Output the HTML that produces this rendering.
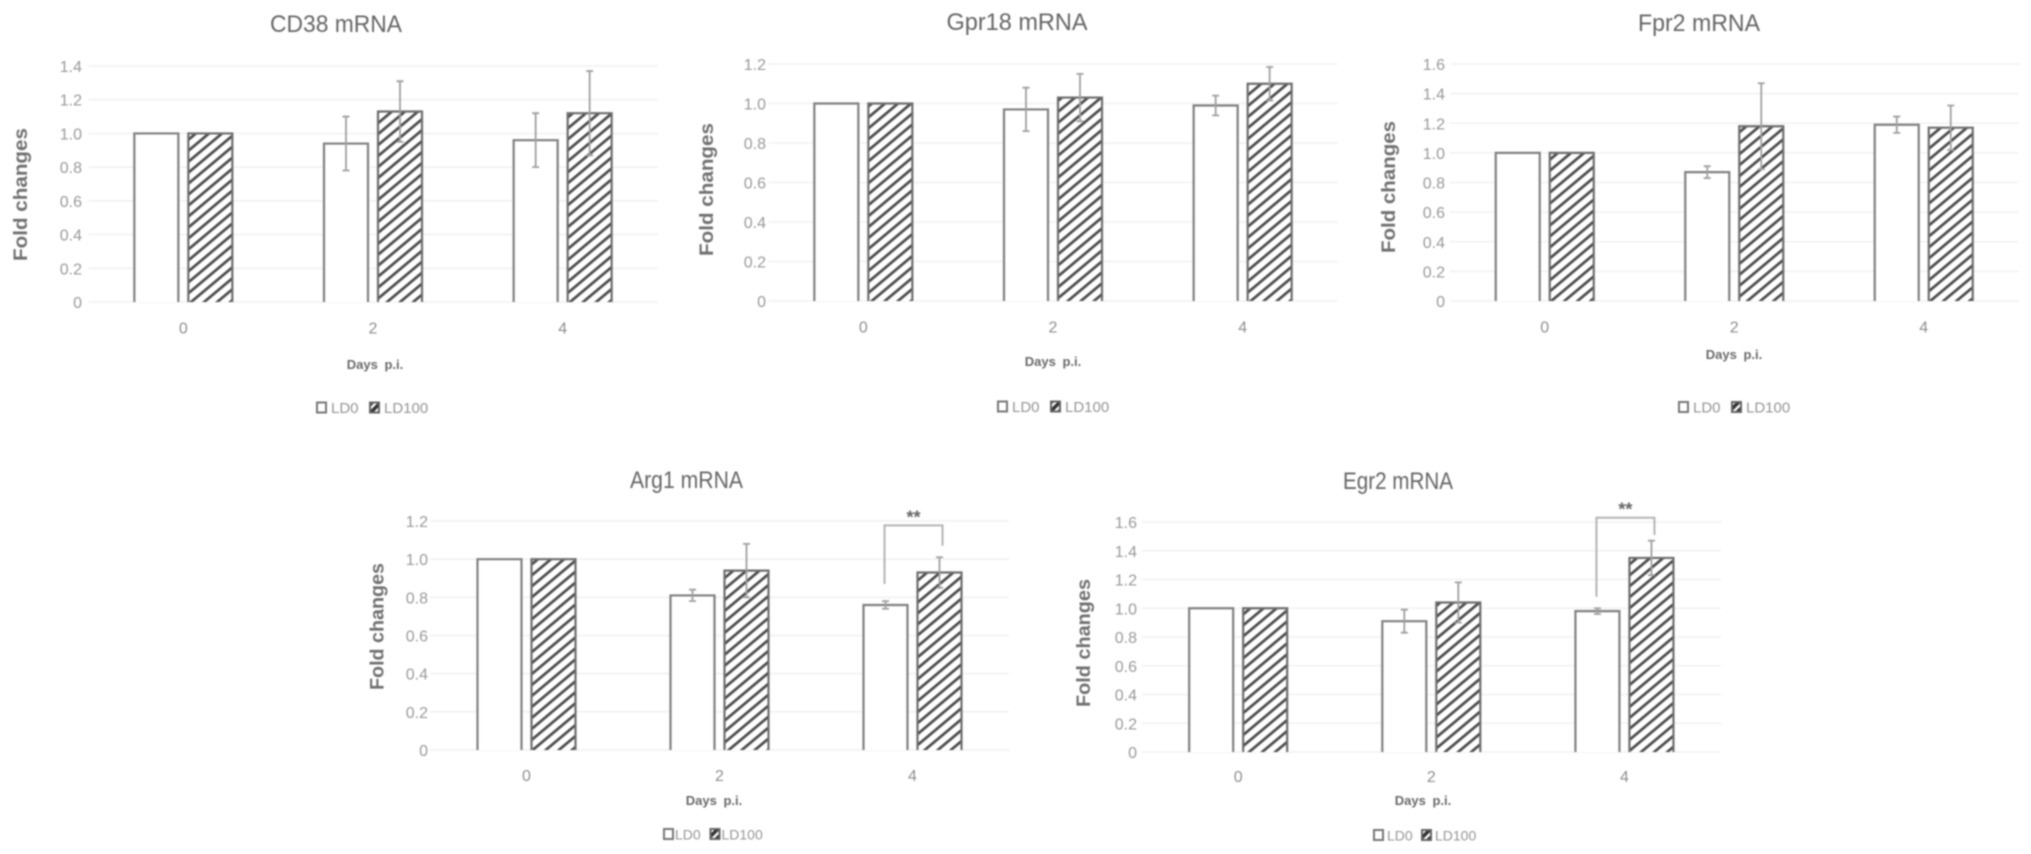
<!DOCTYPE html>
<html lang="en">
<head>
<meta charset="utf-8">
<title>mRNA fold changes</title>
<style>
html,body{margin:0;padding:0;background:#fff;width:2031px;height:854px;overflow:hidden}
svg{display:block;filter:blur(0.8px)}
text{font-family:"Liberation Sans",sans-serif}
</style>
</head>
<body>
<svg id="figure" xmlns="http://www.w3.org/2000/svg" width="2031" height="854" viewBox="0 0 2031 854">
<defs>
<pattern id="hatch" patternUnits="userSpaceOnUse" width="8.4" height="10" patternTransform="rotate(50)">
<rect width="8.4" height="10" fill="#fff"/>
<rect x="0" y="0" width="2.7" height="10" fill="#4a4a4a"/>
</pattern>
<pattern id="hatch-small" patternUnits="userSpaceOnUse" width="6" height="6" patternTransform="rotate(45)">
<rect width="6" height="6" fill="#fff"/>
<rect x="0" y="0" width="3.6" height="6" fill="#333"/>
</pattern>
</defs>
</svg>
<script>
const categories = ["0", "2", "4"];

const cd38Ld0 = [1.0, 0.94, 0.96];
const cd38Ld100 = [1.0, 1.13, 1.12];
const cd38ErrLd0 = [0, 0.16, 0.16];
const cd38ErrLd100 = [0, 0.18, 0.25];
const cd38Ticks = ["0", "0.2", "0.4", "0.6", "0.8", "1.0", "1.2", "1.4"];

const gpr18Ld0 = [1.0, 0.97, 0.99];
const gpr18Ld100 = [1.0, 1.03, 1.10];
const gpr18ErrLd0 = [0, 0.11, 0.05];
const gpr18ErrLd100 = [0, 0.12, 0.085];
const gpr18Ticks = ["0", "0.2", "0.4", "0.6", "0.8", "1.0", "1.2"];

const fpr2Ld0 = [1.0, 0.87, 1.19];
const fpr2Ld100 = [1.0, 1.18, 1.17];
const fpr2ErrLd0 = [0, 0.04, 0.055];
const fpr2ErrLd100 = [0, 0.29, 0.15];
const fpr2Ticks = ["0", "0.2", "0.4", "0.6", "0.8", "1.0", "1.2", "1.4", "1.6"];

const arg1Ld0 = [1.0, 0.81, 0.76];
const arg1Ld100 = [1.0, 0.94, 0.93];
const arg1ErrLd0 = [0, 0.03, 0.02];
const arg1ErrLd100 = [0, 0.14, 0.08];
const arg1Ticks = ["0", "0.2", "0.4", "0.6", "0.8", "1.0", "1.2"];
const arg1Bracket = [1.177, 0.87, 1.07];

const egr2Ld0 = [1.0, 0.91, 0.98];
const egr2Ld100 = [1.0, 1.04, 1.35];
const egr2ErrLd0 = [0, 0.08, 0.02];
const egr2ErrLd100 = [0, 0.14, 0.12];
const egr2Ticks = ["0", "0.2", "0.4", "0.6", "0.8", "1.0", "1.2", "1.4", "1.6"];
const egr2Bracket = [1.63, 1.08, 1.51];

const svg = document.getElementById('figure');
const NS = 'http://www.w3.org/2000/svg';

function node(parent, tag, attrs, txt) {
  const el = document.createElementNS(NS, tag);
  for (const k in attrs) el.setAttribute(k, attrs[k]);
  if (txt !== undefined) el.textContent = txt;
  parent.appendChild(el);
  return el;
}

function drawChart(c) {
  const g = node(svg, 'g', {});
  
  

  const maxVal = parseFloat(c.ticks[c.ticks.length - 1]);
  const y = v => c.y0 - (v / maxVal) * (c.y0 - c.yTop);
  const band = (c.right - c.left) / c.cats.length;
  const cx = i => c.left + band * (i + 0.5);
  const barW = 44, gap = 10;
  const barX = (i, s) => s === 0 ? cx(i) - gap / 2 - barW : cx(i) + gap / 2;

  const title = node(g, 'text', {x: c.titleX, y: c.titleY, 'text-anchor': 'middle', 'font-size': 24, fill: '#666',
    textLength: c.titleW, lengthAdjust: 'spacingAndGlyphs'}, c.title);
  
  

  c.ticks.forEach(t => {
    const v = parseFloat(t);
    const line = node(g, 'line', {x1: c.left, x2: c.right, y1: y(v), y2: y(v), stroke: '#f1f1f1', 'stroke-width': 1.6});
    
    
    const lab = node(g, 'text', {x: c.tickX, y: y(v) + 6, 'text-anchor': 'end', 'font-size': 16, fill: '#999'}, t);
    
    
  });

  [c.ld0, c.ld100].forEach((series, s) => {
    series.forEach((v, i) => {
      const x = barX(i, s);
      const bar = node(g, 'path', {
        d: 'M' + x + ' ' + c.y0 + 'V' + y(v) + 'H' + (x + barW) + 'V' + c.y0,
        fill: s === 0 ? '#fff' : 'url(#hatch)',
        stroke: s === 0 ? '#808080' : '#6e6e6e', 'stroke-width': 2.2
      });
      
      
    });
  });

  [c.ld0, c.ld100].forEach((series, s) => {
    const errs = s === 0 ? c.err0 : c.err100;
    series.forEach((v, i) => {
      if (!errs[i]) return;
      const x = barX(i, s) + barW / 2;
      const hi = y(v + errs[i]), lo = y(v - errs[i]);
      const eb = node(g, 'path', {
        d: 'M' + x + ' ' + hi + 'V' + lo + 'M' + (x - 3.5) + ' ' + hi + 'H' + (x + 3.5) + 'M' + (x - 3.5) + ' ' + lo + 'H' + (x + 3.5),
        fill: 'none', stroke: '#a0a0a0', 'stroke-width': 1.8
      });
      
      
    });
  });

  c.cats.forEach((t, i) => {
    const lab = node(g, 'text', {x: cx(i), y: c.catY + 6, 'text-anchor': 'middle', 'font-size': 16, fill: '#8e8e8e'}, t);
    
    
  });

  const yt = node(g, 'text', {
    x: 0, y: 0, 'text-anchor': 'middle', 'font-size': 19, 'font-weight': 'bold', fill: '#707070',
    textLength: c.yLabelW, lengthAdjust: 'spacingAndGlyphs',
    transform: 'translate(' + c.yLabelX + ' ' + c.yLabelY + ') rotate(-90)'
  }, 'Fold changes');
  
  

  const xt = node(g, 'text', {x: c.xLabelX, y: c.xLabelY + 3, 'text-anchor': 'middle', 'font-size': 13, 'font-weight': 'bold', fill: '#6a6a6a', 'word-spacing': 3}, 'Days p.i.');
  
  

  const k0 = node(g, 'rect', {x: c.legend0X, y: c.legendY - 5, width: 9, height: 10, fill: '#fff', stroke: '#777', 'stroke-width': 2});
  
  
  const t0 = node(g, 'text', {x: c.legend0X + c.legendDx, y: c.legendY + 5.5, 'font-size': c.legendFont, fill: '#959595'}, 'LD0');
  
  
  const k1 = node(g, 'rect', {x: c.legend1X, y: c.legendY - 5, width: 9, height: 10, fill: 'url(#hatch-small)', stroke: '#666', 'stroke-width': 2});
  
  
  const t1 = node(g, 'text', {x: c.legend1X + c.legendDx, y: c.legendY + 5.5, 'font-size': c.legendFont, fill: '#959595'}, 'LD100');
  
  

  if (c.bracket) {
    const xa = barX(2, 0) + barW / 2 - 1, xb = barX(2, 1) + barW / 2 + 3;
    const br = node(g, 'path', {
      d: 'M' + xa + ' ' + y(c.bracket[1]) + 'V' + y(c.bracket[0]) + 'H' + xb + 'V' + y(c.bracket[2]),
      fill: 'none', stroke: '#b4b4b4', 'stroke-width': 2
    });
    
    
    const st = node(g, 'text', {x: (xa + xb) / 2, y: y(c.bracket[0]) - 2, 'text-anchor': 'middle', 'font-size': 18, 'font-weight': 'bold', fill: '#666'}, '**');
    
    
  }
}

drawChart({key: 'cd38', title: 'CD38 mRNA', titleW: 132, cats: categories, ticks: cd38Ticks, ld0: cd38Ld0, ld100: cd38Ld100, err0: cd38ErrLd0, err100: cd38ErrLd100,
  left: 88.5, right: 657.5, y0: 302, yTop: 66, titleX: 336, titleY: 32, tickX: 82, catY: 327.5, yLabelX: 27, yLabelY: 194.5, yLabelW: 133, xLabelX: 375, xLabelY: 366, legend0X: 317, legend1X: 370, legendDx: 14, legendFont: 15, legendY: 407.5});
drawChart({key: 'gpr18', title: 'Gpr18 mRNA', titleW: 141, cats: categories, ticks: gpr18Ticks, ld0: gpr18Ld0, ld100: gpr18Ld100, err0: gpr18ErrLd0, err100: gpr18ErrLd100,
  left: 768.5, right: 1337.5, y0: 301, yTop: 64, titleX: 1017, titleY: 30, tickX: 766, catY: 326.5, yLabelX: 713, yLabelY: 189.5, yLabelW: 133, xLabelX: 1053, xLabelY: 363, legend0X: 998, legend1X: 1051, legendDx: 14, legendFont: 15, legendY: 406.5});
drawChart({key: 'fpr2', title: 'Fpr2 mRNA', titleW: 122, cats: categories, ticks: fpr2Ticks, ld0: fpr2Ld0, ld100: fpr2Ld100, err0: fpr2ErrLd0, err100: fpr2ErrLd100,
  left: 1450, right: 2018.5, y0: 301, yTop: 64, titleX: 1699, titleY: 31, tickX: 1445, catY: 326.5, yLabelX: 1395, yLabelY: 187, yLabelW: 132, xLabelX: 1734, xLabelY: 356, legend0X: 1679, legend1X: 1732, legendDx: 14, legendFont: 15, legendY: 407});
drawChart({key: 'arg1', title: 'Arg1 mRNA', titleW: 113, cats: categories, ticks: arg1Ticks, ld0: arg1Ld0, ld100: arg1Ld100, err0: arg1ErrLd0, err100: arg1ErrLd100, bracket: arg1Bracket,
  left: 430, right: 1009, y0: 750, yTop: 521, titleX: 686.5, titleY: 488, tickX: 428, catY: 775, yLabelX: 383.5, yLabelY: 626.5, yLabelW: 127, xLabelX: 714, xLabelY: 802, legend0X: 664, legend1X: 710.5, legendDx: 11, legendFont: 14, legendY: 834});
drawChart({key: 'egr2', title: 'Egr2 mRNA', titleW: 110, cats: categories, ticks: egr2Ticks, ld0: egr2Ld0, ld100: egr2Ld100, err0: egr2ErrLd0, err100: egr2ErrLd100, bracket: egr2Bracket,
  left: 1141.6, right: 1721, y0: 752, yTop: 522, titleX: 1398, titleY: 489, tickX: 1137, catY: 776, yLabelX: 1090, yLabelY: 643, yLabelW: 128, xLabelX: 1423, xLabelY: 802, legend0X: 1374, legend1X: 1422, legendDx: 13, legendFont: 14, legendY: 835});
</script>
</body>
</html>
